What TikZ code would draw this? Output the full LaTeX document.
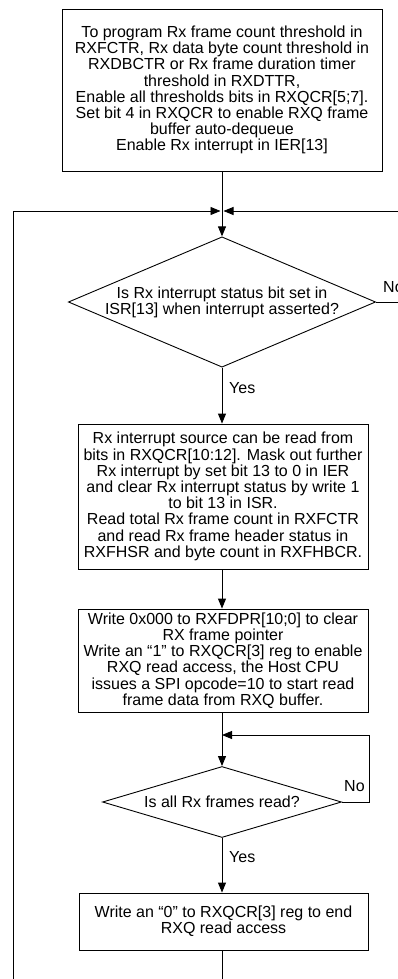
\documentclass[tikz,border=0pt]{standalone}
\usepackage{fontspec}
\setmainfont{Liberation Sans}
\usetikzlibrary{arrows.meta,shapes.geometric}
\tikzset{
  every node/.style={font={\fontsize{16}{16.2}\selectfont}},
  box/.style={draw=black, line width=0.9pt, align=center, inner sep=0pt},
  dia/.style={draw=black, line width=0.9pt, diamond, align=center, inner sep=0pt},
  link/.style={draw=black, line width=0.9pt},
  arr/.style={link, -{Triangle[length=10pt,width=8pt]}},
  lbl/.style={inner sep=0pt, anchor=west}
}
\begin{document}
\begin{tikzpicture}[x=1pt,y=-1pt]
\useasboundingbox (0,0) rectangle (398,979);
\clip (0,0) rectangle (398,979);
% boxes
\node[box, minimum width=320pt, minimum height=162pt] (b1) at (222,90)
 {To program Rx frame count threshold in\\RXFCTR, Rx data byte count threshold in\\RXDBCTR or Rx frame duration timer\\threshold in RXDTTR,\\Enable all thresholds bits in RXQCR[5;7].\\Set bit 4 in RXQCR to enable RXQ frame\\buffer auto-dequeue\\Enable Rx interrupt in IER[13]};
\node[dia, aspect=2.357, minimum width=304pt, minimum height=129pt] (d1) at (222,302)
 {Is Rx interrupt status bit set in\\ISR[13] when interrupt asserted?};
\node[box, minimum width=290pt, minimum height=145pt] (b2) at (223,496.5)
 {Rx interrupt source can be read from\\bits in RXQCR[10:12]. Mask out further\\Rx interrupt by set bit 13 to 0 in IER\\and clear Rx interrupt status by write 1\\to bit 13 in ISR.\\Read total Rx frame count in RXFCTR\\and read Rx frame header status in\\RXFHSR and byte count in RXFHBCR.};
\node[box, minimum width=290pt, minimum height=103pt] (b3) at (223,660.5)
 {Write 0x000 to RXFDPR[10;0] to clear\\RX frame pointer\\Write an “1” to RXQCR[3] reg to enable\\RXQ read access, the Host CPU\\issues a SPI opcode=10 to start read\\frame data from RXQ buffer.};
\node[dia, aspect=3.37, minimum width=239pt, minimum height=71pt] (d2) at (222,802)
 {Is all Rx frames read?};
\node[box, minimum width=289pt, minimum height=57pt] (b4) at (223.5,921.5)
 {Write an “0” to RXQCR[3] reg to end\\RXQ read access};
% coordinates
\coordinate (J) at (222,211);
\coordinate (L) at (13,211);
\coordinate (LB) at (13,990);
\coordinate (R1) at (410,302);
\coordinate (R2) at (410,211);
\coordinate (J2) at (222,735);
\coordinate (F1) at (369,802);
\coordinate (F2) at (369,735);
\coordinate (BOT) at (222,990);
% connectors
\draw[link] (b1.south -| J) -- (J);
\draw[arr] (J) -- (d1.north);
\draw[arr, shorten >=1.5pt] (LB) -- (L) -- (J);
\draw[arr, shorten >=1.5pt] (d1.east) -- (R1) -- (R2) -- (J);
\draw[arr] (d1.south) -- (d1.south |- b2.north);
\draw[arr] (d1.south |- b2.south) -- (d1.south |- b3.north);
\draw[link] (d1.south |- b3.south) -- (J2);
\draw[arr] (J2) -- (d2.north);
\draw[arr] (d2.east) -- (F1) -- (F2) -- (J2);
\draw[arr] (d2.south) -- (d2.south |- b4.north);
\draw[link] (d2.south |- b4.south) -- (BOT);
% labels
\node[lbl] (no1) at (383,287) {No};
\node[lbl] (yes1) at (229,388) {Yes};
\node[lbl] (no2) at (344,786) {No};
\node[lbl] (yes2) at (229,857) {Yes};
\end{tikzpicture}
\end{document}
